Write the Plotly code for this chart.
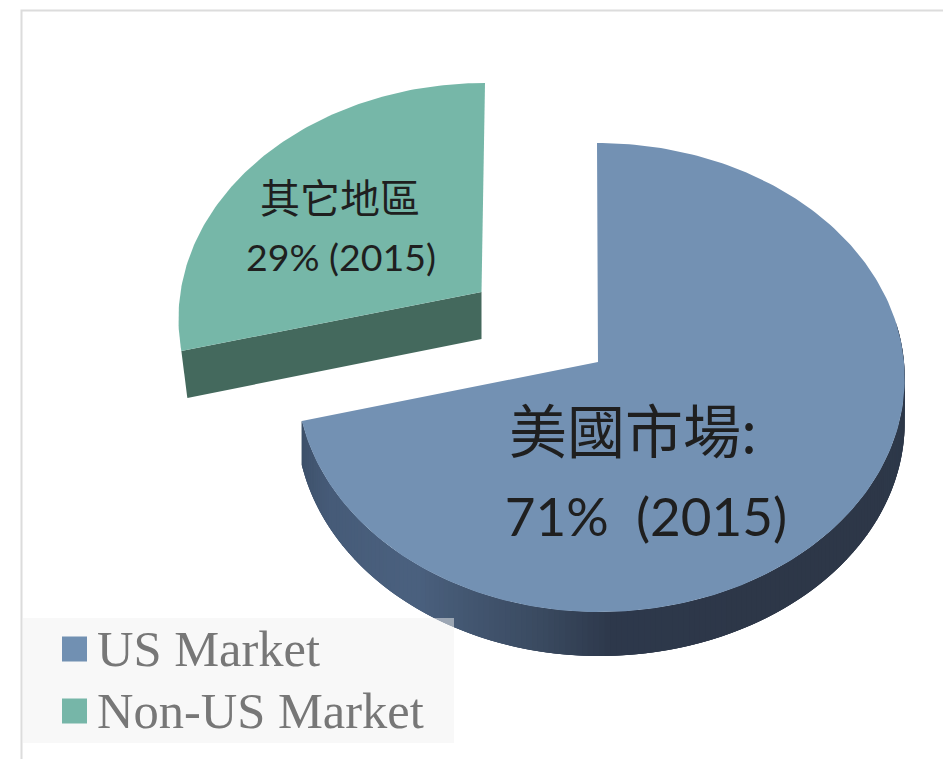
import numpy as np
import plotly.graph_objects as go

# Data
markets = ["US Market", "Non-US Market"]
shares = [71, 29]
top_colors = ["#7391b3", "#76b7a8"]
legend_colors = ["#7190b2", "#76b6a8"]
label_lines = [["美國市場:", "71%  (2015)"], ["其它地區", "29% (2015)"]]

W, H = 943, 759
# pie geometry (pixel space): apex, radii, perspective, thickness
blue = dict(ax=598, ay=362, rx_r=306, rx_l=301, k=233.5, p=0.0661, depth=44, lean=-1)
green = dict(ax=481.5, ay=292, rx_r=301, rx_l=301, k=230.8, p=0.104, depth=47, lean=3.5)


def project(geo, t_deg, drop=0.0):
    t = np.radians(t_deg)
    X, Y = np.sin(t), np.cos(t)
    d = 1 + geo["p"] * Y
    rx = np.where(X > 0, geo["rx_r"], geo["rx_l"])
    return geo["ax"] + rx * X / d + geo["lean"] * Y, geo["ay"] - geo["k"] * Y / d + drop


def hex2rgb(h):
    return np.array([int(h[i:i + 2], 16) for i in (1, 3, 5)], float)


side_stops_t = [80, 150, 178, 190, 215, 240, 256]
side_stops_c = ["#2e394a", "#2d3748", "#2e394c", "#3a4a60", "#4b617f", "#465b78", "#3d5069"]


def side_color(t):
    c = [np.interp(t, side_stops_t, [hex2rgb(s)[i] for s in side_stops_c]) for i in range(3)]
    return "rgb(%d,%d,%d)" % tuple(c)


fig = go.Figure()


def poly(xs, ys, color, name, line=0):
    fig.add_trace(go.Scatter(
        x=xs, y=ys, mode="lines", fill="toself", fillcolor=color,
        line=dict(color=color, width=line), name=name, showlegend=False, hoverinfo="skip"))


us_sweep = 360 * shares[0] / sum(shares)

# Blue side wall, cut into overlapping slices for the gradient
step = 1.0
edges = np.arange(80, us_sweep, step)
for a in edges:
    b = min(a + 3 * step, us_sweep)
    ts = np.linspace(a, b, 4)
    x0, y0 = project(blue, ts)
    x1, y1 = project(blue, ts[::-1], blue["depth"])
    poly(list(x0) + list(x1), list(y0) + list(y1), side_color(a + step / 2), markets[0])

# Blue top face
ts = np.linspace(0, us_sweep, 240)
x, y = project(blue, ts)
poly([blue["ax"]] + list(x) + [blue["ax"]], [blue["ay"]] + list(y) + [blue["ay"]], top_colors[0], markets[0])

# Green cut wall + top face
x0, y0 = project(green, us_sweep)
poly([green["ax"], float(x0), float(x0) + 6, green["ax"]],
     [green["ay"], float(y0), float(y0) + green["depth"], green["ay"] + green["depth"]],
     "#44695d", markets[1])
ts = np.linspace(us_sweep, 360, 120)
x, y = project(green, ts)
poly([green["ax"]] + list(x) + [green["ax"]], [green["ay"]] + list(y) + [green["ay"]], top_colors[1], markets[1])


# Labels on the slices
def label(px, py, text, family, size):
    fig.add_trace(go.Scatter(
        x=[px], y=[py], mode="text", text=[text], textposition="middle center",
        textfont=dict(family=family, size=size, color="#1f1f1f"), showlegend=False, hoverinfo="skip"))


label(633, 438, label_lines[0][0], "Noto Sans CJK TC", 58)
label(646, 523, label_lines[0][1], "Lato", 53)
label(340, 203, label_lines[1][0], "Noto Sans CJK TC", 40)
label(341, 262, label_lines[1][1], "Lato", 37.5)

# Legend panel, translucent over the pie
poly([23, 454, 454, 23, 23], [618, 618, 743, 743, 618], "rgba(241,241,241,0.5)", "legend panel")
for yy, name, col in zip([649, 711], markets, legend_colors):
    fig.add_trace(go.Scatter(
        x=[74.5], y=[yy], mode="markers", marker=dict(symbol="square", size=25, color=col, line=dict(width=0)),
        showlegend=False, hoverinfo="skip"))
    fig.add_trace(go.Scatter(
        x=[97], y=[yy + 4], mode="text", text=[name], textposition="middle right",
        textfont=dict(family="Liberation Serif", size=50.5, color="#777777"), showlegend=False, hoverinfo="skip"))

fig.update_layout(
    width=W, height=H, margin=dict(l=0, r=0, t=0, b=0),
    paper_bgcolor="white", plot_bgcolor="white", showlegend=False,
    xaxis=dict(range=[0, W], visible=False, fixedrange=True),
    yaxis=dict(range=[H, 0], visible=False, fixedrange=True),
    shapes=[dict(type="path", path="M 21.5 759 L 21.5 10.5 L 943 10.5", line=dict(color="#dcdcdc", width=2), layer="below")],
)
fig.write_html("out.html", config=dict(displayModeBar=False),
               post_script="document.body.style.margin='0';document.documentElement.style.overflow='hidden';")
